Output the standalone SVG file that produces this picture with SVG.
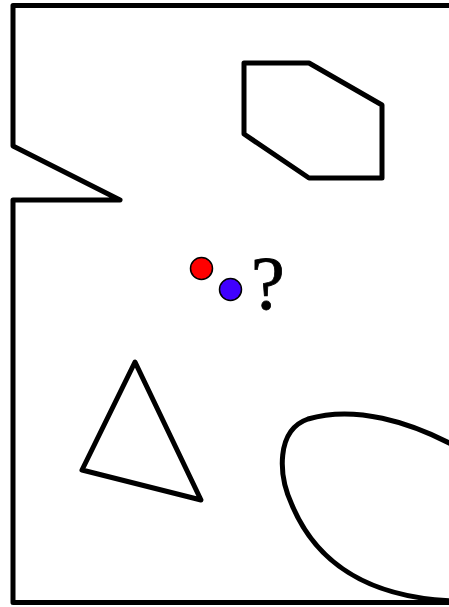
<svg xmlns="http://www.w3.org/2000/svg" width="449" height="607" viewBox="0 0 449 607">
<style>
.wall{fill:none;stroke:#000;stroke-width:5;stroke-linejoin:round;stroke-linecap:butt}
.dot{stroke:#000;stroke-width:1.5}
</style>
<rect width="449" height="607" fill="#fff"/>
<g id="boundary">
<path class="wall" d="M 455,5.5 L 13,5.5 L 13,146 L 120,200 L 13,200 L 13,602.5 L 455,602.5"/>
</g>
<g id="hexagon">
<polygon class="wall" points="244,63 309,63 382,105 382,178 309,178 244,134"/>
</g>
<g id="triangle">
<polygon class="wall" points="135,362 82,470 201,500"/>
</g>
<g id="blob">
<path class="wall" d="M 455,446 C 410,422 355,405 308,419 C 276,430 278,475 292,505 C 315,560 365,598 455,601"/>
</g>
<g id="robot-red">
<circle class="dot" cx="201.5" cy="268.5" r="11" fill="#ff0000"/>
</g>
<g id="robot-blue">
<circle class="dot" cx="230.5" cy="289.5" r="11" fill="#4000ff"/>
</g>
<g id="label">
<text x="251" y="309" font-family="Liberation Serif, serif" font-size="76" stroke="#000" stroke-width="0.8">?</text>
</g>
</svg>
